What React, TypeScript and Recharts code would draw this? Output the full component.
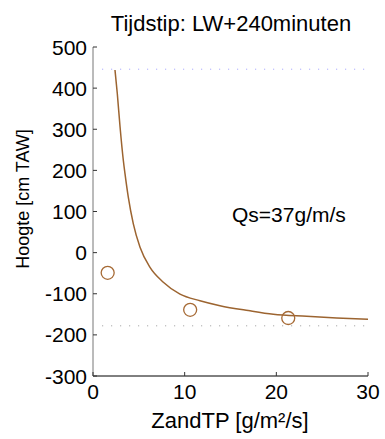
import { ComposedChart, Line, Scatter, XAxis, YAxis } from "recharts";

const xTicks = [0, 10, 20, 30];
const yTicks = [-300, -200, -100, 0, 100, 200, 300, 400, 500];

// fitted curve
const curveX = [2.4, 2.65, 2.95, 3.31, 3.49, 3.85, 4.4, 5.13, 6.22, 7.67, 9.49, 11.67, 13.85, 16.94, 19.67, 23.31, 26.58, 30];
const curveY = [444, 387, 306, 224, 192, 135, 70, 13, -36, -72, -101, -117, -129, -141, -150, -155, -159, -162];

// measurements
const obsX = [1.6, 10.6, 21.3];
const obsY = [-49, -139, -159];

const limitX = [1, 30];
const upperLimit = 446;
const lowerLimit = -178;

const curve = curveX.map((x, i) => ({ x, y: curveY[i] }));
const obs = obsX.map((x, i) => ({ x, y: obsY[i] }));
const upper = limitX.map((x) => ({ x, y: upperLimit }));
const lower = limitX.map((x) => ({ x, y: lowerLimit }));

const FONT = "Liberation Sans, Arial, sans-serif";
const AXIS_X = 93;
const AXIS_Y = 376;

function YTick(props: any) {
  const { x, y, payload } = props;
  return (
    <g>
      <line x1={AXIS_X} x2={AXIS_X + 4} y1={y} y2={y} stroke="#333" />
      <text x={x} y={y} textAnchor="end" dominantBaseline="central" fontSize={21} fill="#000" fontFamily={FONT}>
        {payload.value}
      </text>
    </g>
  );
}

function XTick(props: any) {
  const { x, y, payload } = props;
  return (
    <g>
      <line x1={x} x2={x} y1={AXIS_Y} y2={AXIS_Y - 4} stroke="#333" />
      <text x={x} y={y} textAnchor="middle" dominantBaseline="hanging" fontSize={21} fill="#000" fontFamily={FONT}>
        {payload.value}
      </text>
    </g>
  );
}

function Ring(props: any) {
  const { cx, cy } = props;
  return <circle cx={cx} cy={cy} r={6.5} fill="none" stroke="#a66a35" strokeWidth={1.3} />;
}

const centered = { position: "absolute" as const, whiteSpace: "nowrap" as const, lineHeight: 1 };

export default function App() {
  return (
    <div style={{ position: "fixed", left: 0, top: 0, width: 385, height: 439, overflow: "hidden", background: "#fff", fontFamily: FONT }}>
      <ComposedChart width={385} height={439} margin={{ top: 47, right: 17, bottom: 0, left: 0 }}>
        <XAxis
          dataKey="x"
          type="number"
          domain={[0, 30]}
          ticks={xTicks}
          allowDataOverflow
          stroke="#000"
          tickLine={false}
          tickSize={0}
          tickMargin={8}
          tick={<XTick />}
          height={63}
        />
        <YAxis
          dataKey="y"
          type="number"
          domain={[-300, 500]}
          ticks={yTicks}
          allowDataOverflow
          stroke="#777"
          tickLine={false}
          tickSize={0}
          tickMargin={6}
          tick={<YTick />}
          width={93}
        />
        <Line data={upper} dataKey="y" stroke="#9b9bff" strokeDasharray="1 8" dot={false} isAnimationActive={false} />
        <Line data={lower} dataKey="y" stroke="#999" strokeDasharray="1 8" dot={false} isAnimationActive={false} />
        <Line data={curve} dataKey="y" type="monotone" stroke="#9c6430" strokeWidth={1.5} dot={false} isAnimationActive={false} />
        <Scatter data={obs} dataKey="y" shape={<Ring />} isAnimationActive={false} />
      </ComposedChart>
      <div style={{ ...centered, fontSize: 22, left: 231, top: 24, transform: "translate(-50%, -50%)" }}>Tijdstip: LW+240minuten</div>
      <div style={{ ...centered, fontSize: 21, left: 232, top: 204 }}>Qs=37g/m/s</div>
      <div style={{ ...centered, fontSize: 22, left: 230, top: 421, transform: "translate(-50%, -50%)" }}>ZandTP [g/m²/s]</div>
      <div style={{ ...centered, fontSize: 18, left: 23, top: 199, transform: "translate(-50%, -50%) rotate(-90deg)" }}>Hoogte [cm TAW]</div>
    </div>
  );
}
